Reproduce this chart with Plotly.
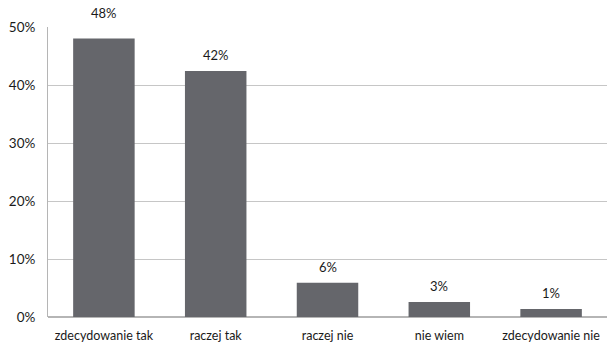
import plotly.graph_objects as go

categories = ["zdecydowanie tak", "raczej tak", "raczej nie", "nie wiem", "zdecydowanie nie"]
shares = [48.0, 42.4, 5.9, 2.6, 1.4]
y_ticks = [0, 10, 20, 30, 40, 50]

FONT = "Lato, Open Sans, sans-serif"
TEXT_COLOR = "#1a1a1a"
Y_MAX = 50

fig = go.Figure(
    go.Bar(
        x=categories,
        y=shares,
        width=0.55,
        marker=dict(color="#65666b", line=dict(width=0)),
        hoverinfo="skip",
    )
)

# value labels floating above each bar; the tallest is pushed a bit higher
for cat, val in zip(categories, shares):
    shift = 26 if val > Y_MAX - 5 else 16
    fig.add_annotation(
        x=cat,
        y=val,
        text=f"{val:.0f}%",
        showarrow=False,
        yanchor="middle",
        yshift=shift,
        font=dict(family=FONT, size=13, color=TEXT_COLOR),
    )

fig.update_layout(
    width=607,
    height=345,
    margin=dict(l=48, r=0, t=27, b=28),
    paper_bgcolor="white",
    plot_bgcolor="white",
    showlegend=False,
    font=dict(family=FONT, size=13, color=TEXT_COLOR),
)
fig.update_xaxes(
    showgrid=False,
    showline=False,
    ticks="",
    ticklabelstandoff=9,
    tickfont=dict(size=12.5),
)
fig.update_yaxes(
    range=[0, Y_MAX],
    tickvals=y_ticks,
    ticktext=[f"{v}%" for v in y_ticks],
    showgrid=True,
    gridcolor="#c6c6c6",
    gridwidth=1,
    showline=True,
    linecolor="#b5b5b5",
    linewidth=1,
    zeroline=True,
    zerolinecolor="#b5b5b5",
    ticks="",
    ticklabelstandoff=9,
    tickfont=dict(size=13.5),
)

fig.write_html("out.html")
